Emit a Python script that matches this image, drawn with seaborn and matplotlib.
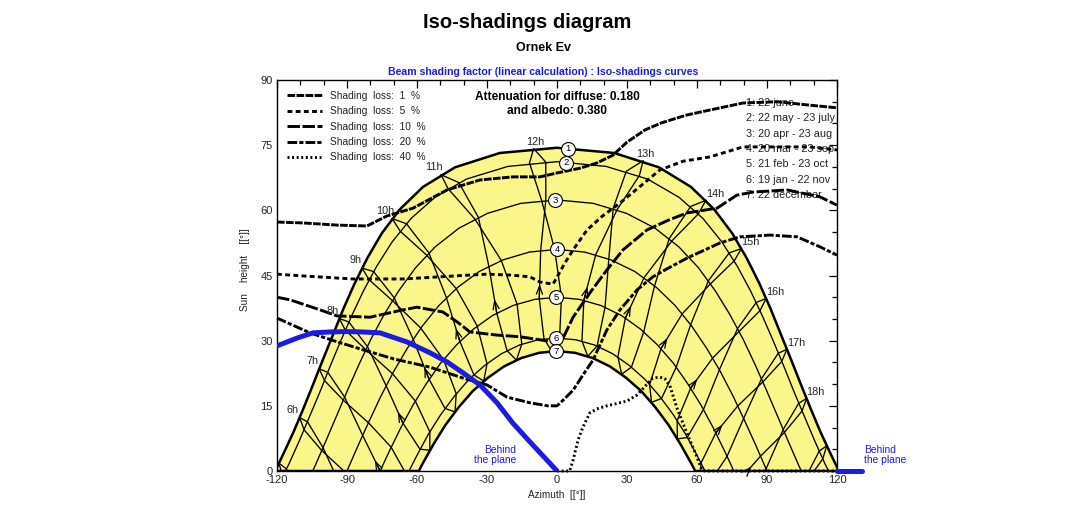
import matplotlib
matplotlib.use("Agg")
import matplotlib.pyplot as plt
from matplotlib.lines import Line2D
import seaborn as sns

# ---------------------------------------------------------------------------
# Sun paths (azimuth from south in degrees, sun height in degrees)
# ---------------------------------------------------------------------------
PATH1_AZ = [-120.8, -117.4, -112.9, -108.6, -104.4, -100.2, -95.9, -91.5, -86.7, -81.3, -75.1, -67.4,
            -57.4, -43.7, -24.5, 0.0, 24.5, 43.7, 57.4, 67.4, 75.1, 81.3, 86.7, 91.5, 95.9, 100.2,
            104.4, 108.6, 112.9, 117.4, 120.8]
PATH1_H = [0.0, 3.8, 9.0, 14.5, 20.1, 25.8, 31.5, 37.4, 43.2, 49.0, 54.7, 60.2, 65.4, 69.9, 73.2, 74.4,
           73.2, 69.9, 65.4, 60.2, 54.7, 49.0, 43.2, 37.4, 31.5, 25.8, 20.1, 14.5, 9.0, 3.8, 0.0]
PATH2_AZ = [-116.4, -114.9, -110.4, -106.0, -101.6, -97.3, -92.8, -88.1, -83.0, -77.3, -70.7, -62.6,
            -52.3, -38.8, -21.1, 0.0, 21.1, 38.8, 52.3, 62.6, 70.7, 77.3, 83.0, 88.1, 92.8, 97.3,
            101.6, 106.0, 110.4, 114.9, 116.4]
PATH2_H = [0.0, 1.6, 7.0, 12.6, 18.2, 24.0, 29.8, 35.6, 41.4, 47.1, 52.7, 58.1, 63.0, 67.2, 70.1, 71.2,
           70.1, 67.2, 63.0, 58.1, 52.7, 47.1, 41.4, 35.6, 29.8, 24.0, 18.2, 12.6, 7.0, 1.6, 0.0]
PATH3_AZ = [-104.7, -103.5, -98.9, -94.3, -89.6, -84.8, -79.7, -74.1, -67.8, -60.6, -52.2, -42.0, -29.8,
            -15.6, 0.0, 15.6, 29.8, 42.0, 52.2, 60.6, 67.8, 74.1, 79.7, 84.8, 89.6, 94.3, 98.9, 103.5,
            104.7]
PATH3_H = [0.0, 1.4, 7.1, 12.9, 18.8, 24.6, 30.4, 36.0, 41.5, 46.8, 51.6, 55.9, 59.3, 61.6, 62.4, 61.6,
           59.3, 55.9, 51.6, 46.8, 41.5, 36.0, 30.4, 24.6, 18.8, 12.9, 7.1, 1.4, 0.0]
PATH4_AZ = [-90.0, -85.3, -80.4, -75.4, -70.0, -64.2, -57.8, -50.6, -42.5, -33.4, -23.1, -11.8, 0.0,
            11.8, 23.1, 33.4, 42.5, 50.6, 57.8, 64.2, 70.0, 75.4, 80.4, 85.3, 90.0]
PATH4_H = [0.0, 5.8, 11.6, 17.3, 22.9, 28.2, 33.3, 38.1, 42.3, 45.9, 48.6, 50.4, 51.0, 50.4, 48.6, 45.9,
           42.3, 38.1, 33.3, 28.2, 22.9, 17.3, 11.6, 5.8, 0.0]
PATH5_AZ = [-75.8, -72.0, -67.0, -61.7, -56.0, -49.9, -43.1, -35.7, -27.6, -18.8, -9.6, 0.0, 9.6, 18.8,
            27.6, 35.7, 43.1, 49.9, 56.0, 61.7, 67.0, 72.0, 75.8]
PATH5_H = [0.0, 4.4, 9.9, 15.2, 20.1, 24.8, 29.0, 32.7, 35.8, 38.1, 39.5, 40.0, 39.5, 38.1, 35.8, 32.7,
           29.0, 24.8, 20.1, 15.2, 9.9, 4.4, 0.0]
PATH6_AZ = [-63.4, -60.2, -55.2, -49.8, -44.0, -37.7, -31.0, -23.8, -16.1, -8.1, 0.0, 8.1, 16.1, 23.8,
            31.0, 37.7, 44.0, 49.8, 55.2, 60.2, 63.4]
PATH6_H = [0.0, 3.4, 8.4, 13.0, 17.2, 21.1, 24.3, 27.0, 29.0, 30.2, 30.6, 30.2, 29.0, 27.0, 24.3, 21.1,
           17.2, 13.0, 8.4, 3.4, 0.0]
PATH7_AZ = [-59.2, -58.0, -53.0, -47.8, -42.1, -36.1, -29.5, -22.6, -15.3, -7.7, 0.0, 7.7, 15.3, 22.6,
            29.5, 36.1, 42.1, 47.8, 53.0, 58.0, 59.2]
PATH7_H = [0.0, 1.3, 6.1, 10.6, 14.7, 18.4, 21.5, 24.1, 26.0, 27.2, 27.6, 27.2, 26.0, 24.1, 21.5, 18.4,
           14.7, 10.6, 6.1, 1.3, 0.0]

DATE_LABELS = ["1: 22 june", "2: 22 may - 23 july", "3: 20 apr - 23 aug", "4: 20 mar - 23 sep",
               "5: 21 feb - 23 oct", "6: 19 jan - 22 nov", "7: 22 december"]
DATE_MARK_AZ = [4.7, 3.9, -0.9, 0.0, -0.4, -0.4, -0.4]

# Hour lines (legal time), first half of the year (Jan -> Jun) ...
HOUR_FIRST = {
    5: [(-119.2, 1.8), (-116.0, 0.5), (-115.5, 0.0)],
    6: [(-110.3, 12.3), (-106.9, 11.3), (-100.3, 5.4), (-95.7, 0.0)],
    7: [(-101.9, 23.5), (-98.2, 22.7), (-91.0, 17.0), (-83.3, 8.2), (-75.8, 0.0)],
    8: [(-93.3, 35.1), (-89.2, 34.3), (-81.2, 28.6), (-73.2, 19.6), (-66.0, 11.0), (-58.7, 5.0), (-54.5, 4.8)],
    9: [(-83.5, 46.7), (-78.6, 45.9), (-69.8, 39.9), (-61.7, 30.4), (-54.8, 21.1), (-48.0, 14.4), (-43.7, 13.6)],
    10: [(-70.6, 58.1), (-64.5, 56.9), (-54.9, 50.2), (-47.4, 39.9), (-41.6, 29.8), (-35.6, 22.1), (-31.4, 20.7)],
    11: [(-49.7, 68.2), (-42.1, 66.4), (-33.7, 58.4), (-29.2, 47.1), (-25.8, 36.3), (-21.4, 27.7), (-17.4, 25.5)],
    12: [(-10.0, 74.2), (-4.8, 71.1), (-4.8, 62.3), (-7.0, 50.8), (-7.6, 39.7), (-5.6, 30.5), (-2.2, 27.5)],
    13: [(36.9, 71.4), (35.3, 68.0), (25.8, 60.2), (16.6, 49.8), (11.5, 39.3), (10.7, 29.9), (13.2, 26.4)],
    14: [(63.8, 62.3), (60.6, 59.2), (49.3, 53.0), (37.3, 44.5), (29.3, 35.2), (26.1, 26.3), (27.7, 22.3)],
    15: [(79.0, 51.2), (76.0, 48.4), (65.8, 43.1), (53.7, 36.2), (44.6, 28.2), (39.7, 19.9), (40.5, 15.8)],
    16: [(89.6, 39.7), (87.0, 36.9), (78.0, 32.1), (66.7, 26.0), (57.3, 19.1), (51.5, 11.6), (51.6, 7.4)],
    17: [(98.5, 28.0), (96.3, 25.2), (88.2, 20.5), (77.5, 15.0), (68.1, 8.8), (61.7, 1.8), (61.6, 0.0)],
    18: [(107.0, 16.7), (105.0, 13.8), (97.5, 8.9), (87.2, 3.4), (81.6, 0.0)],
    19: [(115.6, 5.8), (113.9, 2.8), (110.2, 0.0)],
}
# ... and second half of the year (Jun -> Dec)
HOUR_SECOND = {
    5: [(-119.2, 1.8), (-118.2, 0.0)],
    6: [(-110.3, 12.3), (-108.4, 9.5), (-100.8, 4.7), (-91.3, 0.0)],
    7: [(-101.9, 23.5), (-99.6, 20.8), (-91.6, 16.3), (-80.8, 11.1), (-71.1, 5.5), (-65.4, 0.0)],
    8: [(-93.3, 35.1), (-90.7, 32.4), (-81.9, 27.9), (-70.5, 22.4), (-60.7, 16.1), (-54.5, 9.0), (-54.5, 4.8)],
    9: [(-83.5, 46.7), (-80.5, 44.0), (-70.5, 39.2), (-58.4, 32.9), (-48.6, 25.6), (-43.2, 17.8), (-43.7, 13.6)],
    10: [(-70.6, 58.1), (-67.2, 55.2), (-55.9, 49.7), (-43.2, 42.0), (-34.2, 33.4), (-30.0, 24.7), (-31.4, 20.7)],
    11: [(-49.7, 68.2), (-46.7, 65.0), (-35.2, 58.0), (-23.9, 48.5), (-17.1, 38.4), (-15.1, 29.2), (-17.4, 25.5)],
    12: [(-10.0, 74.2), (-11.8, 70.9), (-6.6, 62.3), (-1.0, 51.0), (1.9, 40.0), (1.1, 30.6), (-2.2, 27.5)],
    13: [(36.9, 71.4), (29.7, 69.0), (24.1, 60.5), (22.2, 48.8), (20.6, 37.7), (17.2, 28.8), (13.2, 26.4)],
    14: [(63.8, 62.3), (57.3, 60.9), (48.1, 53.5), (41.8, 42.6), (37.2, 32.1), (31.9, 23.9), (27.7, 22.3)],
    15: [(79.0, 51.2), (73.8, 50.2), (64.9, 43.8), (57.3, 33.7), (51.1, 23.9), (44.8, 16.7), (40.5, 15.8)],
    16: [(89.6, 39.7), (85.4, 38.8), (77.4, 32.8), (69.6, 23.3), (62.8, 14.2), (55.8, 7.7), (51.6, 7.4)],
    17: [(98.5, 28.0), (94.8, 27.1), (87.6, 21.2), (80.0, 12.1), (72.9, 3.4), (68.7, 0.0)],
    18: [(107.0, 16.7), (103.6, 15.6), (97.0, 9.6), (89.6, 0.5), (89.2, 0.0)],
    19: [(115.6, 5.8), (112.4, 4.6), (108.0, 0.0)],
}
HOUR_LABELS = {k: f"{k}h" for k in range(6, 19)}

# ---------------------------------------------------------------------------
# Iso-shading curves (beam shading loss)
# ---------------------------------------------------------------------------
ISO_LABELS = ["Shading  loss:  1  %", "Shading  loss:  5  %", "Shading  loss:  10  %",
              "Shading  loss:  20  %", "Shading  loss:  40  %"]
ISO1_AZ = [-120, -108.9, -94.3, -81.4, -72.9, -61.7, -47.1, -32.9, -18.9, -7.3, 0, 9.9, 17.1, 24.0, 30.0,
           37.7, 44.6, 55.3, 65.6, 79.7, 94.3, 108.4, 120]
ISO1_H = [57.3, 57.1, 56.6, 56.4, 58.7, 60.5, 64.7, 67.0, 67.7, 67.7, 68.6, 69.7, 70.9, 72.7, 75.7, 78.5,
          80.1, 81.9, 83.1, 84.7, 85.0, 84.2, 83.6]
ISO2_AZ = [-120, -108.9, -87.4, -66.0, -50.0, -37.3, -30.0, -20.0, -11.6, -7.3, -1.7, 3.4, 6.9, 12.9, 19.3,
           27.0, 35.6, 44.1, 54.0, 65.6, 79.7, 94.3, 108.4, 120]
ISO2_H = [45.3, 44.9, 44.2, 44.2, 44.7, 45.1, 45.3, 45.1, 44.7, 43.5, 43.0, 47.9, 50.9, 55.5, 58.6, 61.7,
          65.5, 69.3, 71.3, 72.3, 74.6, 74.6, 74.6, 73.9]
ISO3_AZ = [-120, -114.4, -101.6, -94.3, -80.1, -66.0, -60.0, -48.9, -42.5, -37.3, -26.0, -15.9, -7.3, 0,
           2.6, 6.9, 14.1, 21.4, 28.3, 38.6, 48.0, 55.7, 68.6, 77.1, 84.0, 98.6, 112.7, 120]
ISO3_H = [40.0, 39.4, 37.1, 35.7, 35.4, 37.1, 37.7, 36.6, 34.2, 32.0, 31.3, 30.9, 30.2, 29.6, 30.6, 35.4,
          41.0, 46.3, 50.9, 55.5, 57.8, 59.4, 60.5, 63.5, 64.2, 64.7, 63.1, 61.2]
ISO4_AZ = [-120, -105.9, -94.0, -83.1, -70.0, -54.4, -40.3, -30.0, -21.4, -11.6, -4.0, 0, 3.0, 6.9, 11.0,
           15.4, 21.4, 27.0, 34.3, 41.1, 47.0, 55.7, 69.9, 78.4, 91.3, 102.9, 112.7, 120]
ISO4_H = [35.2, 31.8, 29.7, 27.9, 25.8, 23.9, 21.4, 19.8, 17.0, 15.7, 15.0, 15.0, 16.5, 18.6, 22.0, 25.5,
          32.5, 37.1, 41.7, 44.7, 46.5, 49.0, 52.5, 53.9, 54.3, 53.9, 51.6, 49.7]
ISO5_AZ = [0, 5.4, 6.9, 9.0, 11.1, 14.1, 17.1, 21.4, 30.0, 34.3, 38.6, 41.1, 44.1, 46.3, 48.4, 51.4, 55.7,
           60.0, 62.1, 63.4, 120]
ISO5_H = [0, 0, 2.5, 7.1, 10.1, 13.4, 14.3, 15.0, 16.1, 17.5, 20.0, 21.4, 21.6, 21.2, 19.6, 14.5, 8.7,
          3.2, 0.2, 0, 0]

# Limit of the collector plane ("behind the plane")
BEHIND_AZ = [-120, -111.4, -104.6, -97.3, -90.0, -83.2, -75.9, -64.3, -54.4, -47.1, -40.3, -33.0, -25.7,
             -18.9, -11.6, -4.3, 0]
BEHIND_H = [28.8, 30.6, 31.8, 32.0, 32.1, 32.0, 31.8, 29.7, 27.2, 25.1, 22.6, 19.8, 15.7, 11.0, 6.7,
            2.5, 0]
BEHIND_W_AZ = [120, 130.7]
BEHIND_W_H = [0, 0]

DIFFUSE_ATT = 0.180
ALBEDO_ATT = 0.380

# ---------------------------------------------------------------------------
sns.set_theme(style="white")
plt.rcParams["font.family"] = ["Liberation Sans", "DejaVu Sans"]
plt.rcParams["lines.scale_dashes"] = False
plt.rcParams["axes.unicode_minus"] = False
plt.rcParams["text.color"] = "black"

BLUE = "#1c1ce0"
YELLOW = "#FAF68A"
ISO_STYLES = [(0, (5.5, 1.0)), (0, (3.5, 2.4)), (0, (9.0, 1.8)), (0, (7.0, 1.5, 3.0, 1.5)),
              (0, (1.4, 1.9))]
ISO_LW = 2.1

fig = plt.figure(figsize=(10.88, 5.28), dpi=100)
ax = fig.add_axes([277 / 1088, 57 / 528, 560 / 1088, 391 / 528])

paths = [(PATH1_AZ, PATH1_H), (PATH2_AZ, PATH2_H), (PATH3_AZ, PATH3_H), (PATH4_AZ, PATH4_H),
         (PATH5_AZ, PATH5_H), (PATH6_AZ, PATH6_H), (PATH7_AZ, PATH7_H)]

# yellow band between the summer and winter sun paths
ax.fill(PATH1_AZ + PATH7_AZ[::-1], PATH1_H + PATH7_H[::-1], facecolor=YELLOW,
        edgecolor="black", lw=1.8, zorder=1)
for az, h in paths[1:6]:
    ax.plot(az, h, color="black", lw=0.95, zorder=2)

# hour lines (two branches each)
for table in (HOUR_FIRST, HOUR_SECOND):
    for k, pts in table.items():
        ax.plot([p[0] for p in pts], [p[1] for p in pts], color="black", lw=0.95, zorder=2)

# direction marks on the first-half branch, between the feb and mar paths
for k, pts in HOUR_FIRST.items():
    if len(pts) >= 5:
        (x0, y0), (x1, y1) = pts[4], pts[3]
        tip = (x0 + 0.3 * (x1 - x0), y0 + 0.3 * (y1 - y0))
        ax.annotate("", xy=tip, xytext=(x0, y0),
                    arrowprops=dict(arrowstyle="->,head_length=0.6,head_width=0.22",
                                    lw=0.9, color="black", shrinkA=0, shrinkB=0,
                                    mutation_scale=10), zorder=3)

# hour labels next to the summer path
for k, lab in HOUR_LABELS.items():
    x, y = HOUR_FIRST[k][0]
    if k < 12:
        off = (-5.0, 5.5)
    elif k <= 13:
        off = (1.5, 5.0)
    else:
        off = (6.5, 4.7)
    ax.annotate(lab, (x, y), xytext=off, textcoords="offset points", ha="center", va="center",
                fontsize=7.8, color="#222222", zorder=6)

# numbered date marks
for i, ((az, h), xm) in enumerate(zip(paths, DATE_MARK_AZ)):
    j = max(n for n in range(len(az) - 1) if az[n] <= xm)
    t = (xm - az[j]) / (az[j + 1] - az[j])
    ym = h[j] + t * (h[j + 1] - h[j])
    ax.scatter([xm], [ym], s=100, facecolor="white", edgecolor="black", linewidth=0.8, zorder=7)
    ax.text(xm, ym, str(i + 1), ha="center", va="center", fontsize=6.8, zorder=8)

# date legend (drawn under the iso curves)
for i, lab in enumerate(DATE_LABELS):
    ax.text(0.8375, 0.941 - i * 0.0392, lab, transform=ax.transAxes, fontsize=7.8,
            ha="left", va="center", color="#222222", zorder=3)

# iso-shading curves
iso = [(ISO1_AZ, ISO1_H), (ISO2_AZ, ISO2_H), (ISO3_AZ, ISO3_H), (ISO4_AZ, ISO4_H), (ISO5_AZ, ISO5_H)]
for (az, h), ls in zip(iso, ISO_STYLES):
    sns.lineplot(x=az, y=h, sort=False, estimator=None, color="black", lw=ISO_LW,
                 linestyle=ls, ax=ax, zorder=4)
    ax.lines[-1].set_clip_on(False)

# plane limit
sns.lineplot(x=BEHIND_AZ, y=BEHIND_H, sort=False, estimator=None, color=BLUE, lw=3.6,
             ax=ax, zorder=5)
sns.lineplot(x=BEHIND_W_AZ, y=BEHIND_W_H, sort=False, estimator=None, color=BLUE, lw=3.6,
             ax=ax, zorder=5)
ax.lines[-1].set_clip_on(False)
ax.text(-17.4, 3.6, "Behind\nthe plane", ha="right", va="center", multialignment="right",
        color=BLUE, fontsize=7.4, linespacing=1.0, zorder=6)
ax.text(131.5, 3.6, "Behind\nthe plane", ha="left", va="center", color=BLUE, fontsize=7.4,
        linespacing=1.0, clip_on=False, zorder=6)

# iso legend
handles = [Line2D([], [], color="black", lw=ISO_LW, linestyle=ls) for ls in ISO_STYLES]
leg = ax.legend(handles, ISO_LABELS, loc="upper left", bbox_to_anchor=(0.018, 0.972),
                frameon=False, fontsize=7.3, handlelength=3.4, handletextpad=0.8,
                labelspacing=0.53, borderpad=0, borderaxespad=0)
for t in leg.get_texts():
    t.set_color("#222222")

ax.text(0.5, 0.956, f"Attenuation for diffuse: {DIFFUSE_ATT:.3f}", transform=ax.transAxes,
        ha="center", va="center", fontsize=8.6, fontweight="bold", zorder=6)
ax.text(0.5, 0.920, f"and albedo: {ALBEDO_ATT:.3f}", transform=ax.transAxes,
        ha="center", va="center", fontsize=8.6, fontweight="bold", zorder=6)

# axes
ax.set_xlim(-120, 120)
ax.set_ylim(0, 90)
ax.set_xticks(range(-120, 121, 30))
ax.set_yticks(range(0, 91, 15))
ax.set_xticks(range(-120, 121, 10), minor=True)
ax.set_yticks(range(0, 91, 5), minor=True)
ax.tick_params(which="both", direction="in", top=True, right=True, labelsize=8,
               color="black", labelcolor="#222222", width=0.9)
ax.tick_params(which="major", length=6, pad=3)
ax.tick_params(which="minor", length=3.5)
for s in ax.spines.values():
    s.set_color("black")
    s.set_linewidth(1.0)
ax.set_xlabel("")
ax.set_ylabel("")
ax.grid(False)

fig.text(557 / 1088, 1 - 495 / 528, "Azimuth  [[°]]", ha="center", va="center", fontsize=7.2,
         color="#222222")
fig.text(245 / 1088, 1 - 270 / 528, "Sun    height    [[°]]", ha="center", va="center",
         rotation=90, fontsize=7.2, color="#222222")
fig.text(527 / 1088, 1 - 22 / 528, "Iso-shadings diagram", ha="center", va="center",
         fontsize=14.5, fontweight="bold", color="black")
fig.text(543 / 1088, 1 - 48 / 528, "Ornek Ev", ha="center", va="center", fontsize=9,
         fontweight="bold", color="black")
fig.text(543 / 1088, 1 - 72 / 528,
         "Beam shading factor (linear calculation) : Iso-shadings curves",
         ha="center", va="center", fontsize=7.6, fontweight="bold", color=BLUE)

fig.savefig("out.png", dpi=100, facecolor="white")
